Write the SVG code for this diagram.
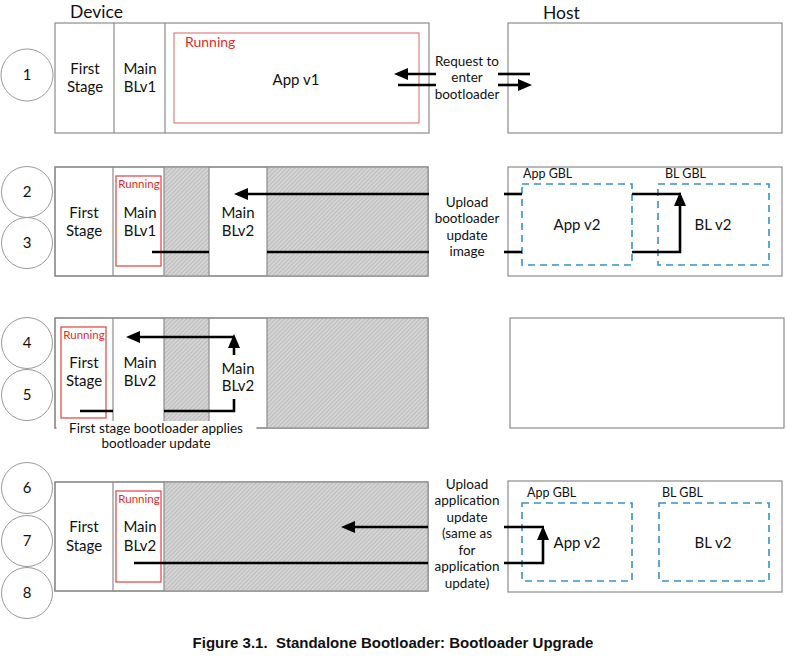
<svg xmlns="http://www.w3.org/2000/svg" width="787" height="660" viewBox="0 0 787 660">
<style>
text{font-family:Lato,"Open Sans","Liberation Sans",sans-serif;fill:#111}
.t{font-size:15px;text-anchor:middle}
.s{font-size:13.5px;text-anchor:middle}
.g{font-size:12.5px}
.h{font-size:17.5px}
.run{fill:#e52a2a;font-size:14px}
.runs{fill:#e52a2a;font-size:11.5px;text-anchor:middle}
.box{fill:#fff;stroke:#8c8c8c;stroke-width:1.2}
.div{stroke:#8c8c8c;stroke-width:1.2}
.circ{fill:#fff;stroke:#9a9a9a;stroke-width:1}
.red{fill:none;stroke:#e04040;stroke-width:1.2}
.dash{fill:none;stroke:#3a8fc8;stroke-width:1.6;stroke-dasharray:7 5}
.hatch{fill:url(#hp)}
.wl{fill:#fff}
.c{fill:none;stroke:#000;stroke-width:2.6}
.a{marker-end:url(#ah)}
</style>
<defs>
<pattern id="hp" width="3" height="3" patternUnits="userSpaceOnUse" patternTransform="rotate(45)">
<rect width="3" height="3" fill="#d4d4d4"/>
<line x1="0.5" y1="0" x2="0.5" y2="3" stroke="#bdbdbd" stroke-width="1"/>
</pattern>
<marker id="ah" markerUnits="userSpaceOnUse" markerWidth="14" markerHeight="12" viewBox="0 0 14 12" refX="10" refY="6" orient="auto">
<path d="M0,0 L14,6 L0,12 Z" fill="#000"/>
</marker>
</defs>
<rect width="787" height="660" fill="#fff"/>

<text class="h" x="70" y="18">Device</text>
<text class="h" x="543" y="19">Host</text>

<!-- Row 1 -->
<g id="step1">
<circle class="circ" cx="27" cy="75" r="26"/>
<text class="t" x="27" y="80">1</text>
</g>
<g id="device1">
<rect class="box" x="55" y="23" width="374" height="110"/>
<line class="div" x1="114" y1="23" x2="114" y2="133"/>
<line class="div" x1="165" y1="23" x2="165" y2="133"/>
<text class="t" x="85" y="74">First</text>
<text class="t" x="85" y="92">Stage</text>
<text class="t" x="140" y="74">Main</text>
<text class="t" x="140" y="92">BLv1</text>
<rect class="red" x="174" y="33" width="245" height="90" style="stroke:#e08080"/>
<text class="run" x="185" y="47">Running</text>
<text class="t" x="296" y="85">App v1</text>
</g>
<g id="host1">
<rect class="box" x="508" y="23" width="274" height="110"/>
</g>
<text class="s" x="467" y="66">Request to</text>
<text class="s" x="467" y="82">enter</text>
<text class="s" x="467" y="99">bootloader</text>

<!-- Row 2 -->
<g id="step2">
<circle class="circ" cx="27" cy="192" r="25.5"/>
<text class="t" x="27" y="197">2</text>
</g>
<g id="step3">
<circle class="circ" cx="27" cy="243" r="25.5"/>
<text class="t" x="27" y="248">3</text>
</g>
<g id="device2">
<rect class="box" x="55" y="167" width="373" height="109"/>
<rect class="hatch" x="164" y="167" width="45" height="109"/>
<rect class="hatch" x="267" y="167" width="161" height="109"/>
<rect class="box" x="55" y="167" width="373" height="109" style="fill:none"/>
<line class="div" x1="113" y1="167" x2="113" y2="276"/>
<line class="div" x1="164" y1="167" x2="164" y2="276"/>
<line class="div" x1="209" y1="167" x2="209" y2="276"/>
<line class="div" x1="267" y1="167" x2="267" y2="276"/>
<text class="t" x="84" y="218">First</text>
<text class="t" x="84" y="236">Stage</text>
<rect class="red" x="116" y="176" width="45" height="90"/>
<text class="runs" x="139" y="188">Running</text>
<text class="t" x="140" y="218">Main</text>
<text class="t" x="140" y="236">BLv1</text>
<text class="t" x="238" y="218">Main</text>
<text class="t" x="238" y="236">BLv2</text>
</g>
<g id="host2">
<rect class="box" x="508" y="167" width="274" height="109"/>
<text class="g" x="523" y="178">App GBL</text>
<text class="g" x="665" y="178">BL GBL</text>
</g>
<g id="appgbl2">
<rect class="dash" x="522" y="184" width="110" height="81"/>
<text class="t" x="577" y="230">App v2</text>
</g>
<g id="blgbl2">
<rect class="dash" x="658" y="184" width="111" height="81"/>
<text class="t" x="713" y="230">BL v2</text>
</g>
<text class="s" x="467" y="207">Upload</text>
<text class="s" x="467" y="223">bootloader</text>
<text class="s" x="467" y="240">update</text>
<text class="s" x="467" y="256">image</text>

<!-- Row 3 -->
<g id="step4">
<circle class="circ" cx="27" cy="343" r="25.5"/>
<text class="t" x="27" y="348">4</text>
</g>
<g id="step5">
<circle class="circ" cx="27" cy="395" r="25.5"/>
<text class="t" x="27" y="400">5</text>
</g>
<g id="device3">
<rect class="box" x="55" y="318" width="373" height="110"/>
<rect class="hatch" x="164" y="318" width="45" height="110"/>
<rect class="hatch" x="267" y="318" width="161" height="110"/>
<rect class="box" x="55" y="318" width="373" height="110" style="fill:none"/>
<line class="div" x1="113" y1="318" x2="113" y2="428"/>
<line class="div" x1="164" y1="318" x2="164" y2="428"/>
<line class="div" x1="209" y1="318" x2="209" y2="428"/>
<line class="div" x1="267" y1="318" x2="267" y2="428"/>
<rect class="wl" x="56.5" y="421" width="200" height="30"/>
<rect class="red" x="61" y="327" width="45" height="91"/>
<text class="runs" x="84" y="339">Running</text>
<text class="t" x="84" y="368">First</text>
<text class="t" x="84" y="386">Stage</text>
<text class="t" x="140" y="368">Main</text>
<text class="t" x="140" y="386">BLv2</text>
<text class="t" x="238" y="374">Main</text>
<text class="t" x="238" y="391">BLv2</text>
<text class="s" x="156" y="433">First stage bootloader applies</text>
<text class="s" x="156" y="448">bootloader update</text>
</g>
<g id="host3">
<rect class="box" x="510" y="318" width="274" height="110"/>
</g>

<!-- Row 4 -->
<g id="step6">
<circle class="circ" cx="27" cy="488" r="25.5"/>
<text class="t" x="27" y="493">6</text>
</g>
<g id="step7">
<circle class="circ" cx="27" cy="541" r="25.5"/>
<text class="t" x="27" y="546">7</text>
</g>
<g id="step8">
<circle class="circ" cx="27" cy="593" r="25.5"/>
<text class="t" x="27" y="598">8</text>
</g>
<g id="device4">
<rect class="box" x="55" y="482" width="373" height="109"/>
<rect class="hatch" x="164" y="482" width="264" height="109"/>
<rect class="box" x="55" y="482" width="373" height="109" style="fill:none"/>
<line class="div" x1="113" y1="482" x2="113" y2="591"/>
<line class="div" x1="164" y1="482" x2="164" y2="591"/>
<text class="t" x="84" y="532">First</text>
<text class="t" x="84" y="551">Stage</text>
<rect class="red" x="116" y="491" width="45" height="91"/>
<text class="runs" x="139" y="503">Running</text>
<text class="t" x="140" y="532">Main</text>
<text class="t" x="140" y="551">BLv2</text>
</g>
<g id="host4">
<rect class="box" x="508" y="481" width="274" height="111"/>
<text class="g" x="527" y="497">App GBL</text>
<text class="g" x="662" y="497">BL GBL</text>
</g>
<g id="appgbl4">
<rect class="dash" x="522" y="503" width="110" height="78"/>
<text class="t" x="577" y="548">App v2</text>
</g>
<g id="blgbl4">
<rect class="dash" x="659" y="503" width="110" height="78"/>
<text class="t" x="713" y="548">BL v2</text>
</g>
<text class="s" x="467" y="489">Upload</text>
<text class="s" x="467" y="505">application</text>
<text class="s" x="467" y="522">update</text>
<text class="s" x="467" y="538">(same as</text>
<text class="s" x="467" y="555">for</text>
<text class="s" x="467" y="571">application</text>
<text class="s" x="467" y="588">update)</text>

<!-- Connectors -->
<g id="connectors">
<line class="c a" x1="436" y1="74" x2="398" y2="74"/>
<line class="c" x1="398" y1="85" x2="436" y2="85"/>
<line class="c" x1="498" y1="74" x2="530" y2="74"/>
<line class="c a" x1="498" y1="85" x2="528" y2="85"/>

<line class="c a" x1="429" y1="194" x2="238" y2="194"/>
<line class="c" x1="152" y1="252" x2="209" y2="252"/>
<line class="c" x1="267" y1="252" x2="429" y2="252"/>
<line class="c" x1="504" y1="194" x2="522" y2="194"/>
<line class="c" x1="504" y1="252" x2="522" y2="252"/>
<line class="c" x1="632" y1="194" x2="681" y2="194"/>
<polyline class="c a" points="632,252 680,252 680,196"/>

<line class="c" x1="80" y1="411" x2="113" y2="411"/>
<polyline class="c" points="164,411 234,411 234,399"/>
<line class="c a" x1="234" y1="355" x2="234" y2="338"/>
<line class="c a" x1="235" y1="337" x2="130" y2="337"/>

<line class="c a" x1="428" y1="527" x2="345" y2="527"/>
<line class="c" x1="134" y1="563" x2="428" y2="563"/>
<line class="c" x1="504" y1="527" x2="544" y2="527"/>
<polyline class="c a" points="504,563 543,563 543,530"/>
</g>

<text x="393" y="648" style="font-family:'Liberation Sans',Arial,sans-serif;font-weight:bold;font-size:15px;text-anchor:middle">Figure 3.1.&#160; Standalone Bootloader: Bootloader Upgrade</text>
</svg>
